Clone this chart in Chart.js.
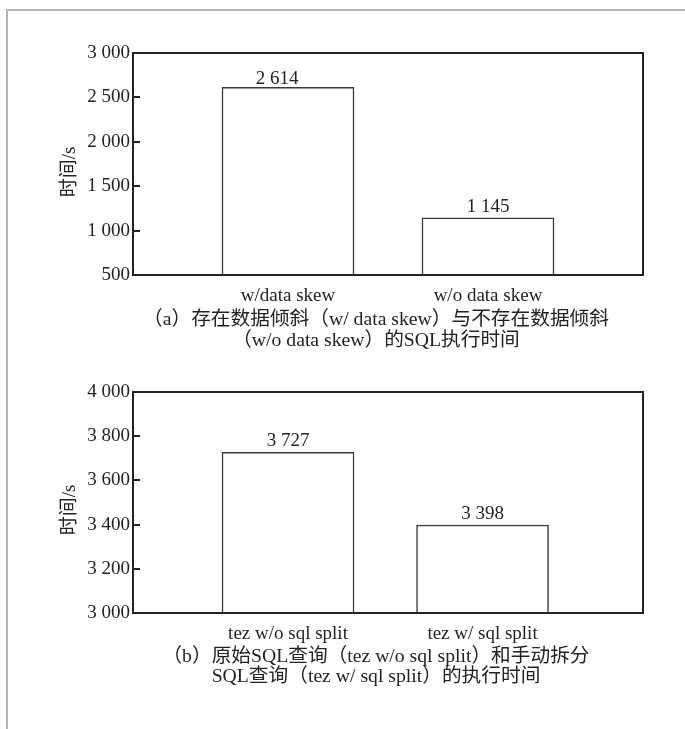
<!DOCTYPE html>
<html>
<head>
<meta charset="utf-8">
<script src="https://cdn.jsdelivr.net/npm/chart.js@4.4.1/dist/chart.umd.min.js"></script>
<style>
  html, body { margin: 0; padding: 0; background: #fff; }
  body { width: 685px; height: 729px; position: relative; overflow: hidden;
         font-family: "Liberation Serif", "Noto Sans CJK SC", serif; color: #222; }
  .frame { position: absolute; left: 6px; top: 9px; width: 700px; height: 760px;
           border-top: 2px solid #b4b4b4; border-left: 2px solid #b4b4b4; }
  canvas { position: absolute; left: 0; }
  .cap { position: absolute; left: 76px; width: 600px; text-align: center;
         font-size: 19.7px; white-space: nowrap; }
  .ytitle { position: absolute; font-size: 19px; line-height: 1; white-space: nowrap;
            transform: translate(-50%, -50%) rotate(-90deg); }
</style>
</head>
<body>
<div class="frame"></div>
<canvas id="c1" width="685" height="310" style="top:0px"></canvas>
<canvas id="c2" width="685" height="310" style="top:339px"></canvas>
<div class="ytitle" id="yt1" style="left:68px; top:171.5px"></div>
<div class="ytitle" id="yt2" style="left:68px; top:510px"></div>
<div class="cap" id="cap1" style="top:307.5px; line-height:21px"></div>
<div class="cap" id="cap2" style="top:644.5px; line-height:20px"></div>
<script>
// ---- data ----
const categoriesA = ['w/data skew', 'w/o data skew'];
const valuesA = [2614, 1145];
const yTicksA = [500, 1000, 1500, 2000, 2500, 3000];

const categoriesB = ['tez w/o sql split', 'tez w/ sql split'];
const valuesB = [3727, 3398];
const yTicksB = [3000, 3200, 3400, 3600, 3800, 4000];

const yTitle = '时间/s';
const captionA = ['（a）存在数据倾斜（w/ data skew）与不存在数据倾斜', '（w/o data skew）的SQL执行时间'];
const captionB = ['（b）原始SQL查询（tez w/o sql split）和手动拆分', 'SQL查询（tez w/ sql split）的执行时间'];

// ---- helpers ----
const FONT_FAMILY = '"Liberation Serif", "Noto Sans CJK SC", serif';
const INK = '#222';
const fmt = v => String(v).replace(/\B(?=(\d{3})+(?!\d))/g, ' ');

const framePlugin = {
  id: 'frame',
  afterDraw(chart) {
    const a = chart.chartArea, ctx = chart.ctx;
    ctx.save();
    ctx.strokeStyle = INK;
    ctx.lineWidth = 2;
    ctx.strokeRect(a.left, a.top, a.right - a.left, a.bottom - a.top);
    ctx.restore();
  }
};

const valueLabelPlugin = {
  id: 'valueLabels',
  afterDatasetsDraw(chart, args, opts) {
    const ctx = chart.ctx;
    const meta = chart.getDatasetMeta(0);
    const ds = chart.data.datasets[0];
    ctx.save();
    ctx.font = '19px ' + FONT_FAMILY;
    ctx.fillStyle = INK;
    ctx.textAlign = 'center';
    ctx.textBaseline = 'alphabetic';
    meta.data.forEach((el, i) => {
      const n = (opts.nudge && opts.nudge[i]) || {dx: 0, dy: 0};
      ctx.fillText(fmt(ds.data[i].y), el.x + n.dx, el.y - 6 + n.dy);
    });
    ctx.restore();
  }
};

function makeChart(id, cats, vals, yTicks, xMin, xMax, xHeight, nudge) {
  const yMin = yTicks[0], yMax = yTicks[yTicks.length - 1];
  const step = yTicks[1] - yTicks[0];
  return new Chart(document.getElementById(id), {
    type: 'bar',
    data: {
      datasets: [{
        data: vals.map((v, i) => ({x: i, y: v})),
        backgroundColor: '#ffffff',
        borderColor: '#3a3a3a',
        borderWidth: 1.5,
        barThickness: 132
      }]
    },
    options: {
      responsive: false,
      animation: false,
      events: [],
      layout: { padding: { top: 53, right: 42, bottom: 0, left: 0 } },
      plugins: {
        legend: { display: false },
        tooltip: { enabled: false },
        valueLabels: { nudge: nudge }
      },
      scales: {
        x: {
          type: 'linear',
          offset: false,
          bounds: 'data',
          min: xMin, max: xMax,
          afterBuildTicks: s => { s.ticks = cats.map((_, i) => ({value: i})); },
          afterFit: s => { s.height = xHeight; },
          grid: { display: false, drawTicks: false, offset: false },
          border: { display: false },
          ticks: {
            autoSkip: false, maxRotation: 0, padding: 10,
            color: INK, font: { family: FONT_FAMILY, size: 19 },
            callback: v => cats[v]
          }
        },
        y: {
          min: yMin, max: yMax,
          beginAtZero: false,
          afterBuildTicks: s => { s.ticks = yTicks.map(v => ({value: v})); },
          afterFit: s => { s.width = 133; },
          grid: { display: true, drawOnChartArea: false, drawTicks: true,
                  tickLength: -7, color: INK, lineWidth: 2 },
          border: { display: false },
          ticks: {
            stepSize: step, padding: 10,
            color: INK, font: { family: FONT_FAMILY, size: 19 },
            callback: v => fmt(v)
          }
        }
      }
    },
    plugins: [framePlugin, valueLabelPlugin]
  });
}

// chart (a): bars centred at 288 and 488 px, plot 133..643
makeChart('c1', categoriesA, valuesA, yTicksA, -0.775, 1.775, 35,
          [{dx: -11, dy: 3}, {dx: 0, dy: 0}]);
// chart (b): bars centred at 288 and 482.5 px
makeChart('c2', categoriesB, valuesB, yTicksB, -0.797, 1.825, 36, null);

document.getElementById('yt1').textContent = yTitle;
document.getElementById('yt2').textContent = yTitle;
document.getElementById('cap1').innerHTML = captionA.join('<br>');
document.getElementById('cap2').innerHTML = captionB.join('<br>');
</script>
</body>
</html>
